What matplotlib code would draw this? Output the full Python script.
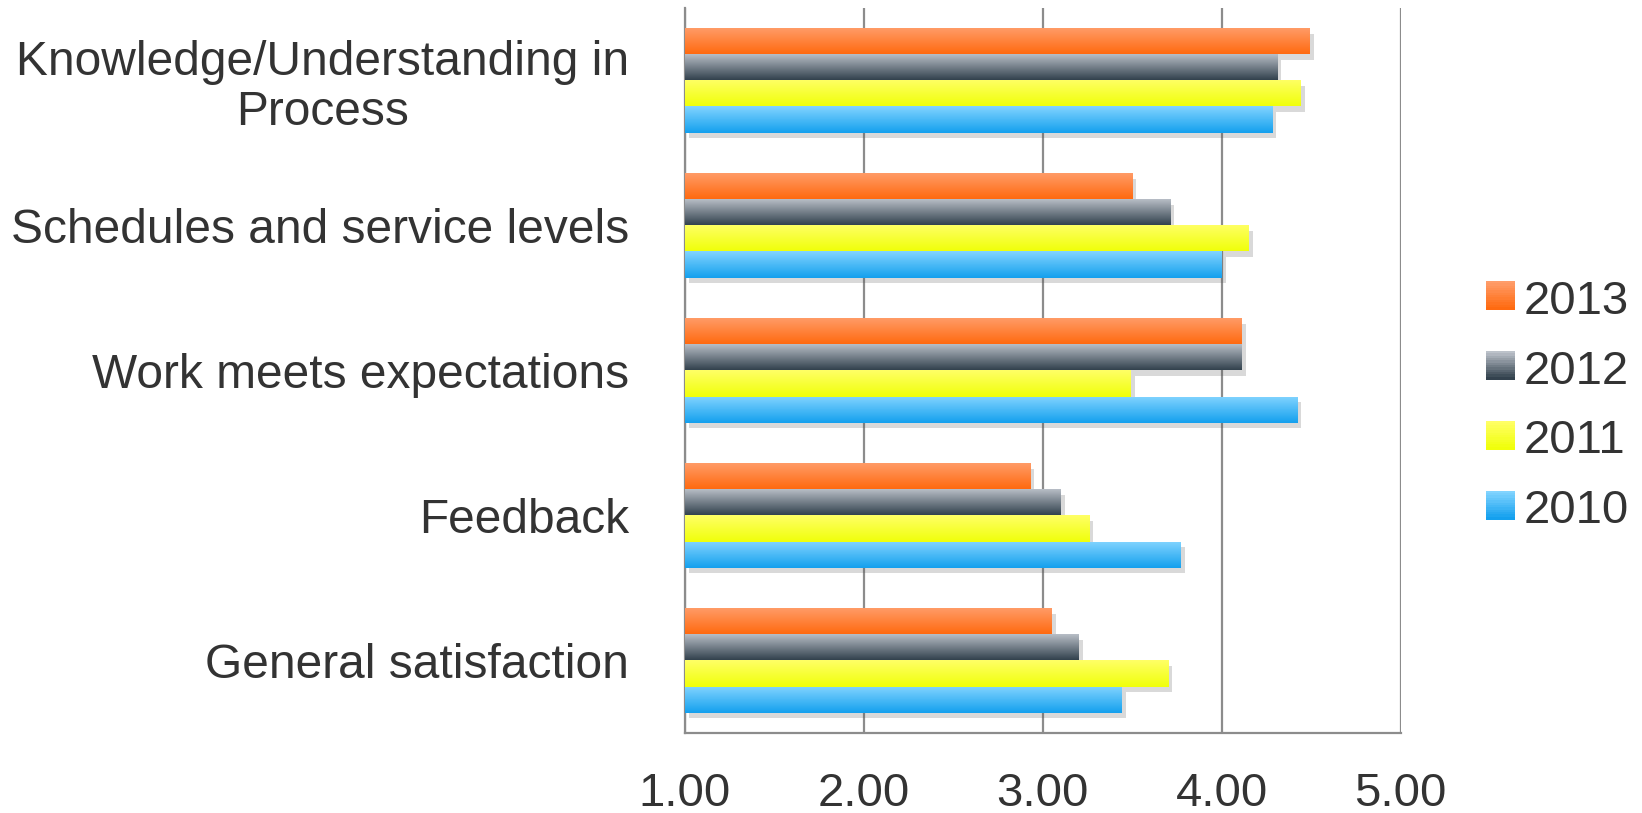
import matplotlib
matplotlib.use("Agg")
import matplotlib.pyplot as plt
import matplotlib.patheffects as pe
import numpy as np
from matplotlib.colors import LinearSegmentedColormap
from matplotlib.legend_handler import HandlerBase
from matplotlib.patches import Rectangle, Patch

plt.rcParams['font.family'] = ['Liberation Sans', 'DejaVu Sans']

categorias = ["Knowledge/Understanding in\nProcess", "Schedules and service levels",
              "Work meets expectations", "Feedback", "General satisfaction"]
anios = ["2013", "2012", "2011", "2010"]
v2013 = [4.49, 3.50, 4.11, 2.93, 3.05]
v2012 = [4.31, 3.71, 4.11, 3.10, 3.20]
v2011 = [4.44, 4.15, 3.49, 3.26, 3.70]
v2010 = [4.28, 4.00, 4.42, 3.77, 3.44]
valores = [v2013, v2012, v2011, v2010]
ticks_x = [1.0, 2.0, 3.0, 4.0, 5.0]

# colores degradados (arriba, abajo)
degradados = [("#FF9D6A", "#FF6A10"), ("#BCC2CA", "#33424E"),
              ("#FFFF66", "#F0FF0A"), ("#82D4FF", "#14A0EE")]
texto = "#333333"
grid = "#8C8C8C"

fig = plt.figure(figsize=(16.42, 8.13), dpi=100)
ax = fig.add_axes([0.417, 0.0984, 0.436, 0.892])

alto = 0.18
y = np.arange(len(categorias))
for i, serie in enumerate(valores):
    cmap = LinearSegmentedColormap.from_list("g%d" % i, [degradados[i][0], degradados[i][1]])
    barras = ax.barh(y + (i - 1.5) * alto, np.array(serie) - 1.0, left=1.0, height=alto,
                     color=degradados[i][1], zorder=3,
                     path_effects=[pe.SimplePatchShadow(offset=(3, -4), alpha=0.22, shadow_rgbFace="#555555"),
                                   pe.Normal()])
    for b in barras:
        x0, y0, w, h = b.get_x(), b.get_y(), b.get_width(), b.get_height()
        img = ax.imshow(np.linspace(0, 1, 64).reshape(-1, 1), cmap=cmap, aspect="auto",
                        extent=[x0, x0 + w, y0 + h, y0], zorder=4, interpolation="bilinear")
        img.set_clip_path(b)

ax.set_xlim(1, 5)
ax.set_ylim(len(categorias) - 0.5, -0.5)
ax.set_xticks(ticks_x)
ax.set_xticklabels(["%.2f" % t for t in ticks_x], fontsize=34, color=texto)
ax.set_yticks(y)
ax.set_yticklabels(categorias, fontsize=34.5, color=texto, linespacing=1.12,
                   multialignment="center")
ax.tick_params(axis="x", length=0, pad=28)
ax.tick_params(axis="y", length=0, pad=40)
ax.xaxis.grid(True, color=grid, linewidth=1.6, zorder=0)
ax.set_axisbelow(True)
for s in ["top", "right"]:
    ax.spines[s].set_visible(False)
for s in ["left", "bottom"]:
    ax.spines[s].set_color(grid)
    ax.spines[s].set_linewidth(1.6)


class DegradadoHandler(HandlerBase):
    def create_artists(self, legend, orig_handle, xdescent, ydescent, width, height, fontsize, trans):
        c1, c2 = orig_handle.degr
        cmap = LinearSegmentedColormap.from_list("l", [c1, c2])
        n = 12
        lado = height
        x0 = -xdescent + (width - lado) / 2
        y0 = -ydescent + (height - lado) / 2 + 1
        arts = []
        for k in range(n):
            r = Rectangle((x0, y0 + lado * (n - 1 - k) / n), lado, lado / n + 0.3,
                          facecolor=cmap(k / (n - 1)), edgecolor="none", transform=trans)
            arts.append(r)
        return arts


handles = []
for i, a in enumerate(anios):
    p = Patch(label=a)
    p.degr = degradados[i]
    handles.append(p)
fig.legend(handles=handles, labels=anios, loc="center left", bbox_to_anchor=(0.906, 0.5),
           frameon=False, fontsize=34, labelcolor=texto, handler_map={Patch: DegradadoHandler()},
           handlelength=0.55, handleheight=0.55, handletextpad=0.22, labelspacing=0.55,
           borderpad=0, borderaxespad=0)

fig.savefig("out.png", dpi=100)
